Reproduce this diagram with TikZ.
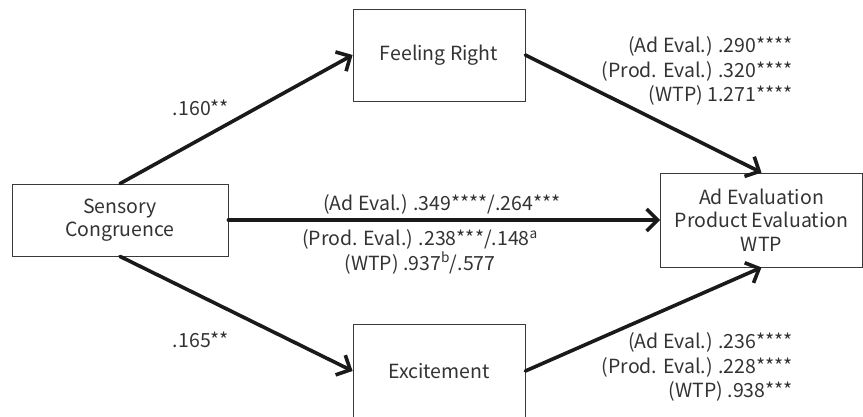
\documentclass[tikz,border=0pt]{standalone}
\usepackage{fontspec}
\setmainfont{Noto Sans CJK JP}
\usetikzlibrary{arrows.meta, positioning}
\definecolor{boxColor}{HTML}{3A3A3A}
\definecolor{lineColor}{HTML}{1A1A1A}
\definecolor{textColor}{HTML}{333333}

\begin{document}
\begin{tikzpicture}[
    x=1pt, y=1pt,
    % Box Styles
    varBox/.style={
        draw=boxColor,
        line width=0.8pt,
        fill=white,
        align=center,
        text=textColor,
        font=\fontsize{19.5}{23.5}\selectfont,
        inner sep=0pt
    },
    % Line Styles
    path/.style={
        -{Straight Barb[length=11pt,width=22pt,line width=3.6pt]},
        line width=3.6pt,
        color=lineColor,
        line cap=round
    },
    % Text Styles
    coef/.style={
        font=\fontsize{19.5}{24.5}\selectfont,
        text=textColor,
        inner sep=0pt
    }
]

    % --- CANVAS ---
    \useasboundingbox (0,0) rectangle (863,416);

    % --- VARIABLES ---
    \node[varBox, minimum width=216pt, minimum height=72pt] (sensory) at (120,196) {Sensory\\Congruence};
    \node[varBox, minimum width=172pt, minimum height=92pt] (feeling) at (439,361) {Feeling Right};
    \node[varBox, minimum width=172pt, minimum height=94pt] (excite) at (439,45) {Excitement};
    \node[varBox, minimum width=202pt, minimum height=94pt] (outcome) at (761.5,196) {Ad Evaluation\\Product Evaluation\\WTP};

    % --- PATHS ---
    \draw[path] (sensory.north) -- (feeling.west);
    \draw[path] (sensory.south) -- (excite.west);
    \draw[path] (feeling.east) -- (outcome.north);
    \draw[path] (excite.east) -- (outcome.south);
    \draw[path] (sensory.east) -- (outcome.west);

    % --- COEFFICIENTS ---
    \node[coef] (aFR) at (201,308) {.160**};
    \node[coef] (aEX) at (201,76) {.165**};

    \node[coef, anchor=east, align=right] (bFR) at (793,345)
        {(Ad Eval.) .290****\\(Prod. Eval.) .320****\\(WTP) 1.271****};
    \node[coef, anchor=east, align=right] (bEX) at (793,49)
        {(Ad Eval.) .236****\\(Prod. Eval.) .228****\\(WTP) .938***};

    % direct effect (total/direct)
    \node[coef] (cTop) at (442,212) {(Ad Eval.) .349****/.264***};
    \node[coef, align=center] (cBot) at (420,164)
        {(Prod. Eval.) .238***/.148\textsuperscript{a}\\(WTP) .937\textsuperscript{b}/.577};

\end{tikzpicture}
\end{document}
